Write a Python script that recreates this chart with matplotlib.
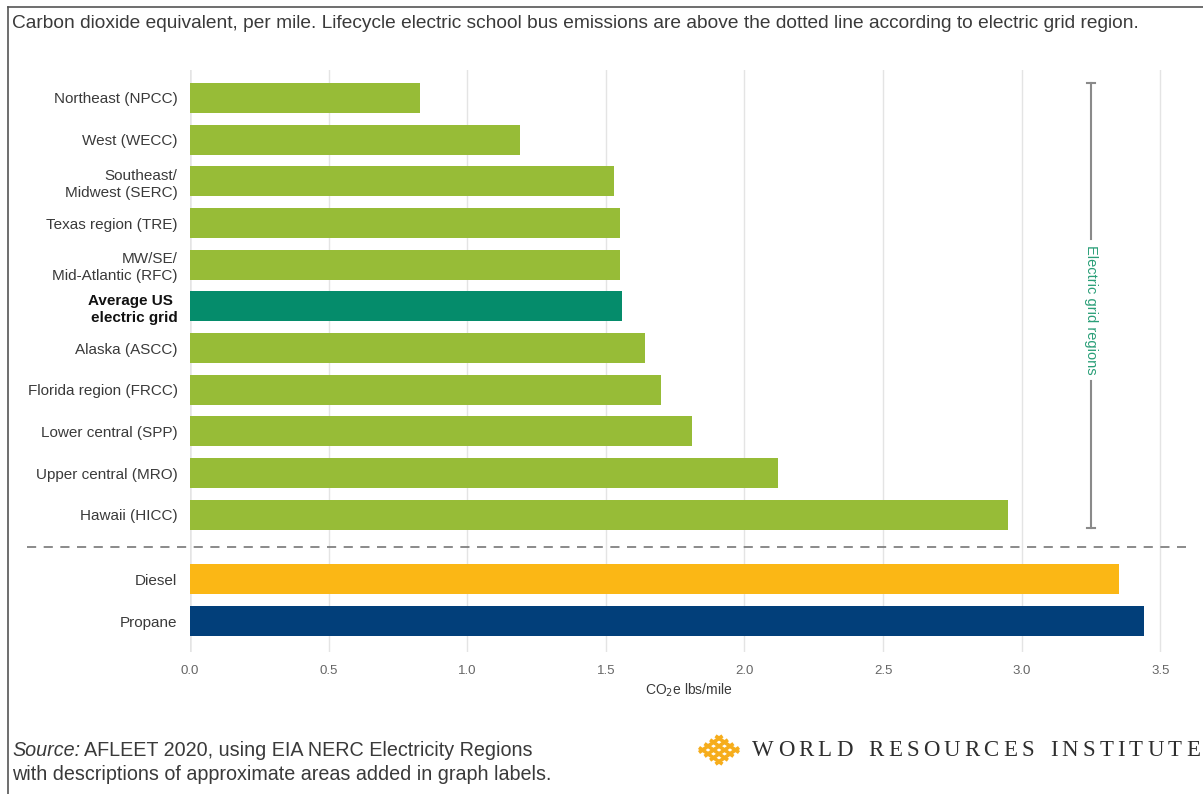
import matplotlib.pyplot as plt
from matplotlib.lines import Line2D
import numpy as np

# data (CO2e lbs/mile)
regions = ['Northeast (NPCC)', 'West (WECC)', 'Southeast/\nMidwest (SERC)',
           'Texas region (TRE)', 'MW/SE/\nMid-Atlantic (RFC)',
           'Average US \nelectric grid', 'Alaska (ASCC)', 'Florida region (FRCC)',
           'Lower central (SPP)', 'Upper central (MRO)', 'Hawaii (HICC)']
region_values = [0.83, 1.19, 1.53, 1.55, 1.55, 1.56, 1.64, 1.70, 1.81, 2.12, 2.95]
fuels = ['Diesel', 'Propane']
fuel_values = [3.35, 3.44]
xticks = [0.0, 0.5, 1.0, 1.5, 2.0, 2.5, 3.0, 3.5]

GREEN = '#97bc37'
AVG = '#058c6b'
DIESEL = '#fbb715'
PROPANE = '#023f7a'
TEXT = '#3a3a3a'

plt.rcParams['font.family'] = ['Liberation Sans', 'DejaVu Sans']

W, H = 1203, 794
fig = plt.figure(figsize=(W / 100, H / 100), dpi=100)
ax = fig.add_axes([190 / W, 1 - 652 / H, (1188 - 190) / W, (652 - 70) / H])

ypos = np.arange(len(regions))
fuel_pos = np.array([11.55, 12.55])
colors = [AVG if 'Average' in r else GREEN for r in regions]

ax.barh(ypos, region_values, height=0.72, color=colors, zorder=3)
ax.barh(fuel_pos, fuel_values, height=0.72, color=[DIESEL, PROPANE], zorder=3)

ax.set_xlim(0, 3.6)
ax.set_ylim(13.29, -0.67)
ax.set_xticks(xticks)
ax.set_xticklabels([f'{t:.1f}' for t in xticks], color='#666666', fontsize=9.5)
ax.set_yticks(np.concatenate([ypos, fuel_pos]))
ax.set_yticklabels(regions + fuels, fontsize=11, color=TEXT, linespacing=1.3)
for lab in ax.get_yticklabels():
    if 'Average' in lab.get_text():
        lab.set_fontweight('bold')
        lab.set_color('#111111')
ax.tick_params(length=0, axis='y', pad=9)
ax.tick_params(length=0, axis='x', pad=9)
ax.grid(axis='x', color='#e4e4e4', lw=1, zorder=0)
ax.axvline(0, color='#a8a8a8', lw=1, zorder=1)
for s in ax.spines.values():
    s.set_visible(False)
ax.set_xlabel('CO$_2$e lbs/mile', fontsize=10, color=TEXT, labelpad=4)

# bracket for the electric grid regions
bx = 3.25
ax.plot([bx, bx], [-0.36, 3.38], color='#8a8a8a', lw=1.5, zorder=4)
ax.plot([bx, bx], [6.78, 10.31], color='#8a8a8a', lw=1.5, zorder=4)
for yy in (-0.36, 10.31):
    ax.plot([bx - 0.015, bx + 0.015], [yy, yy], color='#8a8a8a', lw=1.5, zorder=4)
ax.text(bx, 5.08, 'Electric grid regions', rotation=-90, ha='center', va='center',
        color='#2a9f78', fontsize=10.5)

# dashed separator between grid regions and fuels
fig.add_artist(Line2D([27 / W, 1186 / W], [1 - 547 / H, 1 - 547 / H], color='#777777',
                      lw=1.2, linestyle=(0, (5.5, 4.5))))

# frame lines
fig.add_artist(Line2D([8 / W, 1], [1 - 7 / H, 1 - 7 / H], color='#555555', lw=1.2))
fig.add_artist(Line2D([8 / W, 8 / W], [0, 1 - 7 / H], color='#555555', lw=1.2))

fig.text(12 / W, 1 - 23 / H,
         'Carbon dioxide equivalent, per mile. Lifecycle electric school bus emissions '
         'are above the dotted line according to electric grid region.',
         fontsize=13.8, color=TEXT, va='center', ha='left')

# source note
src_size = 14.2
fig.text(12 / W, 1 - 750 / H, 'Source:', style='italic', fontsize=src_size, color=TEXT,
         va='center')
fig.text(84 / W, 1 - 750 / H, 'AFLEET 2020, using EIA NERC Electricity Regions',
         fontsize=src_size, color=TEXT, va='center')
fig.text(12 / W, 1 - 774 / H, 'with descriptions of approximate areas added in graph labels.',
         fontsize=src_size, color=TEXT, va='center')

# WRI logo: orange lattice diamond
lax = fig.add_axes([695 / W, 1 - 767 / H, 48 / W, 34 / H])
lax.set_xlim(-1.02, 1.02)
lax.set_ylim(-1.02, 1.02)
lax.axis('off')
orange = '#f6ad1c'
t = np.linspace(-1, 1, 400)
for k in np.linspace(-0.7, 0.7, 4):
    for sgn in (1, -1):
        xx, yy = t, sgn * t + k
        m = np.abs(xx) + np.abs(yy) <= 1.0
        lax.plot(xx[m], yy[m], color=orange, lw=2.6, solid_capstyle='butt')

# wordmark with letter tracking to fit the reference width
word = 'WORLD RESOURCES INSTITUTE'
x0, x1 = 752, 1200
renderer = fig.canvas.get_renderer()
wm_kw = dict(family=['Liberation Serif', 'DejaVu Serif'], fontsize=16.5, color='#2e2e2e',
             va='center', ha='left')
parts = []
widths = []
for ch in word:
    if ch == ' ':
        parts.append(None)
        widths.append(8.0)
    else:
        tx = fig.text(0, 0, ch, **wm_kw)
        parts.append(tx)
        widths.append(tx.get_window_extent(renderer).width)
track = (x1 - x0 - sum(widths)) / (len(word) - 1)
x = x0
for tx, w in zip(parts, widths):
    if tx is not None:
        tx.set_position((x / W, 1 - 750 / H))
    x += w + track

fig.savefig('out.png', dpi=100)
